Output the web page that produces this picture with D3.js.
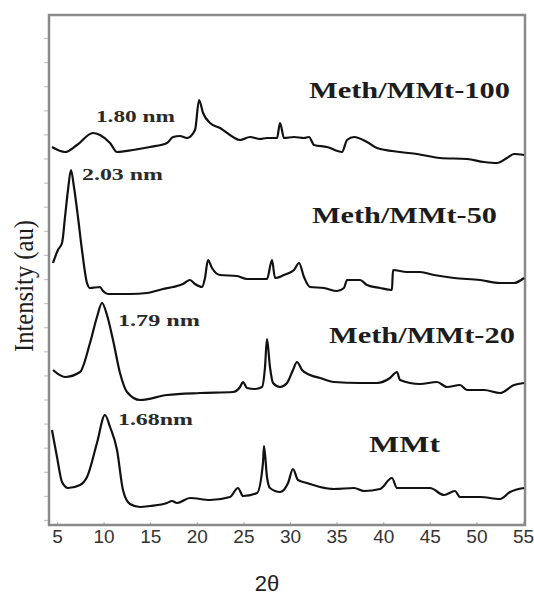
<!DOCTYPE html>
<html>
<head>
<meta charset="utf-8">
<script src="https://cdn.jsdelivr.net/npm/d3@7"></script>
<style>
	body { margin: 0; background: #fff; }
	svg { display: block; }
</style>
</head>
<body>
<script>

// 2theta (deg) , intensity (counts, arbitrary)
var meth100 = [
	[4.46,3730],[5.86,3680],[7.15,3750],[8.86,3870],[9.61,3850],[10.69,3770],[11.44,3680],
	[13.15,3700],[14.98,3730],[16.80,3770],[17.45,3830],[18.20,3840],[18.95,3820],[19.81,3900],
	[20.24,4200],[20.67,4070],[21.42,3970],[22.49,3920],[23.88,3830],[24.64,3800],[25.71,3830],
	[26.78,3810],[27.53,3820],[28.61,3820],[28.93,3970],[29.36,3820],[30.43,3830],[31.50,3820],
	[32.04,3830],[32.58,3750],[33.97,3730],[35.58,3680],[36.12,3800],[36.87,3830],[38.26,3780],
	[39.33,3720],[41.80,3680],[43.63,3660],[46.09,3620],[48.99,3610],[50.82,3580],[52.21,3570],
	[53.28,3620],[54.03,3660],[55.11,3650]
];

var meth50 = [
	[4.57,2570],[5.10,2700],[5.54,2770],[5.86,3030],[6.18,3300],[6.50,3500],[6.82,3330],
	[7.25,3030],[7.68,2700],[8.22,2370],[8.54,2320],[9.61,2330],[9.94,2290],[10.47,2260],
	[12.83,2260],[14.66,2270],[16.37,2310],[17.45,2330],[18.52,2360],[19.27,2400],[19.81,2360],
	[20.56,2330],[20.88,2420],[21.20,2600],[21.63,2520],[22.49,2450],[24.31,2440],[25.39,2410],
	[27.53,2410],[28.07,2600],[28.39,2420],[29.36,2450],[30.43,2500],[30.97,2570],[31.50,2430],
	[32.15,2330],[33.65,2320],[35.04,2290],[35.79,2320],[36.12,2400],[37.51,2400],[38.26,2350],
	[39.66,2320],[40.94,2300],[41.05,2500],[42.55,2480],[43.95,2480],[45.45,2450],[47.60,2420],
	[50.39,2400],[52.53,2370],[54.03,2370],[55.11,2420]
];

var meth20 = [
	[4.57,1500],[5.86,1430],[7.47,1480],[8.54,1770],[9.29,2030],[9.83,2170],[10.36,2050],
	[11.01,1800],[11.76,1470],[12.51,1280],[13.91,1200],[16.80,1250],[20.34,1270],[23.88,1280],
	[24.64,1330],[24.96,1380],[25.39,1320],[26.24,1310],[27.00,1330],[27.32,1530],[27.53,1810],
	[27.85,1530],[28.18,1370],[28.93,1330],[29.68,1370],[30.32,1500],[30.75,1580],[31.29,1500],
	[32.15,1450],[33.22,1420],[34.72,1380],[37.51,1370],[39.33,1370],[40.73,1420],[41.48,1480],
	[41.80,1400],[43.95,1360],[45.77,1380],[46.85,1330],[48.24,1350],[48.99,1300],[50.82,1300],
	[52.53,1270],[54.03,1350],[55.11,1370]
];

var mmt = [
	[4.46,900],[5.00,630],[5.54,380],[6.18,320],[7.47,350],[8.22,430],[9.29,770],[10.15,1050],
	[10.69,930],[11.44,700],[12.08,300],[12.83,160],[13.91,130],[14.98,140],[16.80,170],
	[17.34,190],[17.88,170],[19.27,220],[21.42,200],[23.56,230],[24.42,320],[24.96,240],
	[26.46,270],[27.10,570],[27.21,740],[27.53,430],[27.85,320],[28.93,280],[29.79,370],
	[30.32,510],[30.86,400],[31.82,370],[33.22,330],[34.72,310],[36.87,320],[37.94,290],
	[39.66,310],[40.94,420],[41.48,320],[42.88,320],[45.02,320],[46.52,250],[47.70,290],
	[48.24,230],[50.39,230],[52.53,210],[53.61,280],[55.11,320]
];

var series = [meth100, meth50, meth20, mmt];
var seriesNames = ["Meth/MMt-100", "Meth/MMt-50", "Meth/MMt-20", "MMt"];
var spacingLabels = ["1.80 nm", "2.03 nm", "1.79 nm", "1.68nm"];
var xTicks = [5, 10, 15, 20, 25, 30, 35, 40, 45, 50, 55];
var yTicks = d3.range(0, 21).map(function(i) { return i * 241; });

var W = 534, H = 595;
var frame = { left: 49, right: 525, top: 15, bottom: 525 };

var svg = d3.select("body")
	.append("svg")
	.attr("width", W)
	.attr("height", H);

var x = d3.scaleLinear().domain([5, 55]).range([57, 523]);
var y = d3.scaleLinear().domain([0, 4820]).range([520, 38]);

// little gray ticks left of the frame, no labels
var yAxis = svg.append("g")
	.attr("transform", "translate(" + frame.left + ",0)")
	.call(d3.axisLeft(y).tickValues(yTicks).tickSize(5).tickFormat(""));
yAxis.select(".domain").remove();
yAxis.selectAll("line").attr("stroke", "#c4c4c4").attr("stroke-width", 1.2);

var xAxis = svg.append("g")
	.attr("transform", "translate(0," + frame.bottom + ")")
	.call(d3.axisBottom(x).tickValues(xTicks).tickSizeInner(-3).tickSizeOuter(0).tickPadding(5));
xAxis.select(".domain").remove();
xAxis.selectAll("line").attr("stroke", "#bbb").attr("stroke-width", 1.2);
xAxis.selectAll("text")
	.attr("font-family", "Liberation Sans, Arial, sans-serif")
	.attr("font-size", 19)
	.attr("fill", "#333");

svg.append("rect")
	.attr("x", frame.left)
	.attr("y", frame.top)
	.attr("width", frame.right - frame.left)
	.attr("height", frame.bottom - frame.top)
	.attr("fill", "none")
	.attr("stroke", "#8a8a8a")
	.attr("stroke-width", 2.5);

var line = d3.line()
	.x(function(d) { return x(d[0]); })
	.y(function(d) { return y(d[1]); })
	.curve(d3.curveMonotoneX);

svg.append("g")
	.selectAll("path")
	.data(series)
	.enter()
	.append("path")
	.attr("d", line)
	.attr("fill", "none")
	.attr("stroke", "#111")
	.attr("stroke-width", 2.2)
	.attr("stroke-linejoin", "round");

// where the labels sit, in data units: [2theta, intensity, width px]
var namePos = [[32.04, 4220, 201], [32.36, 2970, 185], [34.18, 1770, 186], [38.48, 680, 71]];
var spacingPos = [[9.18, 3980, 79], [7.68, 3400, 81], [11.54, 1940, 82], [11.54, 950, 75]];

svg.append("g")
	.selectAll("text")
	.data(seriesNames)
	.enter()
	.append("text")
	.attr("x", function(d, i) { return x(namePos[i][0]); })
	.attr("y", function(d, i) { return y(namePos[i][1]); })
	.attr("textLength", function(d, i) { return namePos[i][2]; })
	.attr("lengthAdjust", "spacingAndGlyphs")
	.attr("font-family", "Liberation Serif, Times New Roman, serif")
	.attr("font-weight", "bold")
	.attr("font-size", 23)
	.attr("fill", "#1c1c1c")
	.text(function(d) { return d; });

svg.append("g")
	.selectAll("text")
	.data(spacingLabels)
	.enter()
	.append("text")
	.attr("x", function(d, i) { return x(spacingPos[i][0]); })
	.attr("y", function(d, i) { return y(spacingPos[i][1]); })
	.attr("textLength", function(d, i) { return spacingPos[i][2]; })
	.attr("lengthAdjust", "spacingAndGlyphs")
	.attr("font-family", "Liberation Serif, Times New Roman, serif")
	.attr("font-weight", "bold")
	.attr("font-size", 17)
	.attr("fill", "#2a2a2a")
	.text(function(d) { return d; });

svg.append("text")
	.attr("transform", "translate(33,286) rotate(-90)")
	.attr("text-anchor", "middle")
	.attr("textLength", 132)
	.attr("lengthAdjust", "spacingAndGlyphs")
	.attr("font-family", "Liberation Serif, Times New Roman, serif")
	.attr("font-size", 28)
	.attr("fill", "#1c1c1c")
	.text("Intensity (au)");

svg.append("text")
	.attr("x", 267)
	.attr("y", 591)
	.attr("text-anchor", "middle")
	.attr("font-family", "Liberation Sans, Arial, sans-serif")
	.attr("font-size", 22)
	.attr("fill", "#222")
	.text("2\u03b8");

</script>
</body>
</html>
